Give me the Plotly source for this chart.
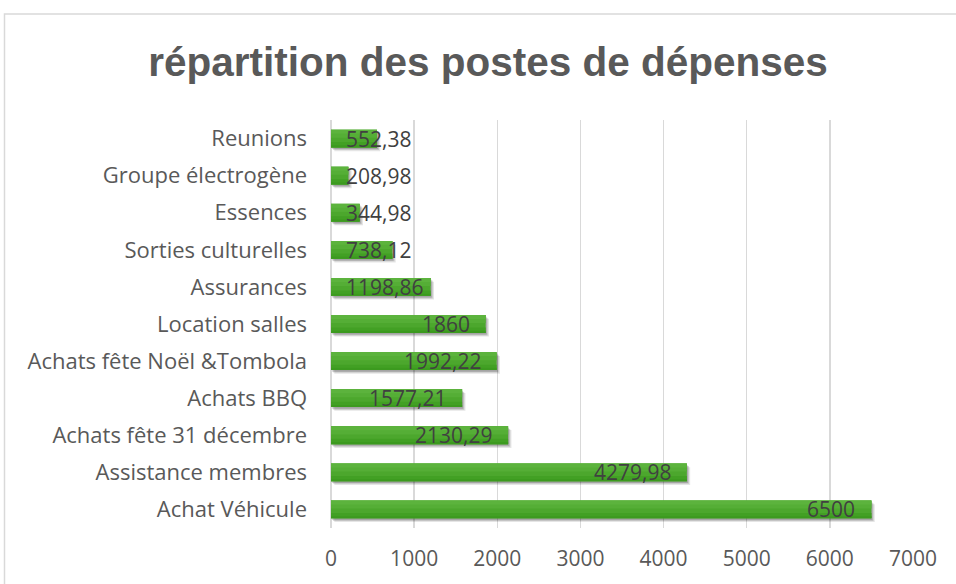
import plotly.graph_objects as go

# Data (bottom to top, as in the reference)
categories = [
    "Achat Véhicule",
    "Assistance membres",
    "Achats fête 31 décembre",
    "Achats BBQ",
    "Achats fête Noël &Tombola",
    "Location salles",
    "Assurances",
    "Sorties culturelles",
    "Essences",
    "Groupe électrogène",
    "Reunions",
]
values = [6500, 4279.98, 2130.29, 1577.21, 1992.22, 1860, 1198.86, 738.12, 344.98, 208.98, 552.38]
x_ticks = [0, 1000, 2000, 3000, 4000, 5000, 6000, 7000]

title_text = "répartition des postes de dépenses"

# Layout geometry (page body margin removed by post_script)
W, H = 956, 584
ML = 331
MT = 120
PW = 913 - 331
PH = 530 - 120
MR = W - ML - PW
MB = H - MT - PH
XMAX = 7000
BW = 0.48
LABEL_FONT = "Open Sans, Liberation Sans, Arial, sans-serif"


def fmt(v):
    s = ("%.2f" % v).rstrip("0").rstrip(".")
    return s.replace(".", ",")


fig = go.Figure()

# soft shadow layers
for dy, dx, a in [(0.10, 40, 0.10), (0.07, 25, 0.14), (0.045, 12, 0.16)]:
    fig.add_trace(go.Bar(
        y=categories, x=values, orientation="h", base=dx,
        width=BW, offset=-BW / 2 - dy,
        marker=dict(color=f"rgba(0,0,0,{a})", line=dict(width=0)),
        hoverinfo="skip", showlegend=False,
    ))

# main bar with gradient strips (bottom darker, top lighter)
strips = [
    (0.00, 1.00, "#4CA72D"),
    (0.00, 0.30, "#42A024"),
    (0.00, 0.12, "#3C9A1F"),
    (0.55, 1.00, "#55AE36"),
    (0.78, 1.00, "#5CB33D"),
]
for f0, f1, col in strips:
    fig.add_trace(go.Bar(
        y=categories, x=values, orientation="h",
        width=BW * (f1 - f0), offset=-BW / 2 + BW * f0,
        marker=dict(color=col, line=dict(width=0)),
        hoverinfo="skip", showlegend=False,
    ))

# data labels
annotations = []
scale = PW / XMAX
for cat, v in zip(categories, values):
    t = fmt(v)
    tw = 12.3 * sum(c.isdigit() for c in t) + 5 * t.count(",")
    L = v * scale
    if L - tw - 17 >= 16:
        ann = dict(x=v, xanchor="right", xshift=-14)
    else:
        ann = dict(x=0, xanchor="left", xshift=13)
    ann.update(y=cat, xref="x", yref="y", text=t, showarrow=False, yanchor="middle",
               font=dict(family=LABEL_FONT, size=21, color="#404040"))
    annotations.append(ann)

fig.update_layout(
    width=W, height=H,
    margin=dict(l=ML, r=MR, t=MT, b=MB),
    paper_bgcolor="white", plot_bgcolor="white",
    barmode="overlay",
    showlegend=False,
    title=dict(
        text="<b>" + title_text + "</b>",
        x=488 / W, xanchor="center", xref="container",
        y=1 - 62 / H, yanchor="middle", yref="container",
        font=dict(family="Liberation Sans, Arial, sans-serif", size=40.5, color="#595959"),
    ),
    xaxis=dict(
        range=[0, XMAX], tickvals=x_ticks, ticktext=[str(v) for v in x_ticks],
        showgrid=True, gridcolor="#d9d9d9", gridwidth=1.3,
        zeroline=True, zerolinecolor="#d9d9d9", zerolinewidth=1.3,
        showline=False, ticks="", ticklabelstandoff=16,
        tickfont=dict(family=LABEL_FONT, size=21, color="#595959"),
        fixedrange=True,
    ),
    yaxis=dict(
        type="category", categoryorder="array", categoryarray=categories,
        range=[-0.5, len(categories) - 0.5],
        showgrid=False, zeroline=False, showline=False, ticks="",
        ticklabelstandoff=23,
        tickfont=dict(family=LABEL_FONT, size=22, color="#595959"),
        fixedrange=True,
    ),
    annotations=annotations,
    shapes=[dict(
        type="rect", xref="paper", yref="paper",
        x0=(4.5 - ML) / PW, x1=1.3,
        y0=-0.3, y1=(530 - 13.5) / PH,
        line=dict(color="#d9d9d9", width=1.5), fillcolor="rgba(0,0,0,0)",
        layer="below",
    )],
)

fig.write_html(
    "out.html",
    config={"displayModeBar": False, "staticPlot": True},
    post_script="document.body.style.margin='0';document.body.style.overflow='hidden';",
)
